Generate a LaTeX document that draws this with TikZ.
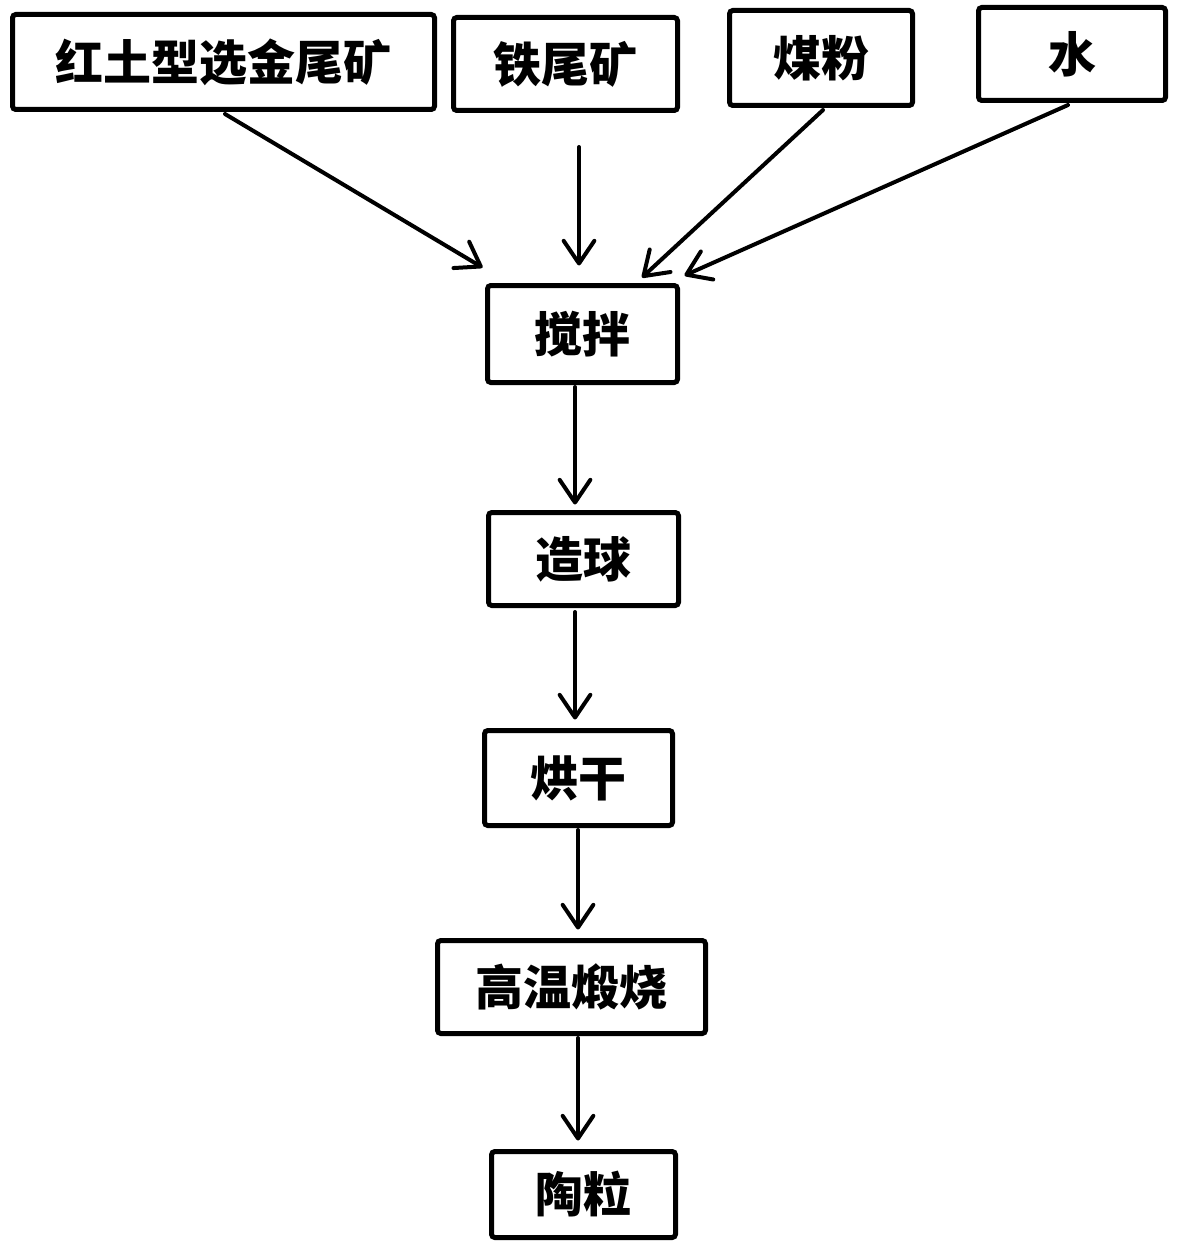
\documentclass[tikz,border=0pt]{standalone}
\usepackage{fontspec}
\setmainfont{Noto Sans CJK SC}
\usetikzlibrary{arrows.meta,calc}
\tikzset{
  box/.style={draw=black, line width=3.75pt, rounded corners=2.5pt, inner sep=0pt,
    font=\fontsize{36pt}{40pt}\selectfont\bfseries},
  flow/.style={line width=3pt, line cap=round,
    -{Straight Barb[length=17pt,width=23pt,round]}},
}
\begin{document}
\begin{tikzpicture}[x=0.75pt,y=-0.75pt]
\useasboundingbox (0,0) rectangle (1177,1245);
\node[box, minimum width=422*0.75pt, minimum height=95*0.75pt] (a) at (223.5,62) {红土型选金尾矿};
\node[box, minimum width=224*0.75pt, minimum height=93*0.75pt] (b) at (565.5,64) {铁尾矿};
\node[box, minimum width=183*0.75pt, minimum height=95*0.75pt] (c) at (821,58) {煤粉};
\node[box, minimum width=187*0.75pt, minimum height=93*0.75pt] (d) at (1072,54) {水};
\node[box, minimum width=190*0.75pt, minimum height=97*0.75pt] (mix) at (582.5,334) {搅拌};
\node[box, minimum width=190*0.75pt, minimum height=93*0.75pt] (ball) at (583.5,559) {造球};
\node[box, minimum width=188*0.75pt, minimum height=95*0.75pt] (dry) at (578.5,778) {烘干};
\node[box, minimum width=268*0.75pt, minimum height=93*0.75pt] (fire) at (571.5,987) {高温煅烧};
\node[box, minimum width=184*0.75pt, minimum height=86*0.75pt] (out) at (583.5,1194.5) {陶粒};
\coordinate (bs) at (579,147);

\draw[flow] ($(a.south)+(1.5,2)$) -- ($(mix.north west)+(-2.5,-15.5)$);
\draw[flow] (bs) -- ($(mix.north)+(-3.5,-17.5)$);
\draw[flow] ($(c.south)+(2,2)$) -- ($(mix.north)+(59.5,-5.5)$);
\draw[flow] ($(d.south)+(-4,2)$) -- ($(mix.north east)+(4.5,-7.5)$);
\draw[flow] ($(mix.south)+(-7.5,2)$) -- ($(ball.north)+(-8.5,-5.5)$);
\draw[flow] ($(ball.south)+(-8.5,4)$) -- ($(dry.north)+(-3.5,-8.5)$);
\draw[flow] ($(dry.south)+(-0.5,2)$) -- ($(fire.north)+(6.5,-8.5)$);
\draw[flow] ($(fire.south)+(6.5,2)$) -- ($(out.north)+(-5.5,-8.5)$);
\end{tikzpicture}
\end{document}
